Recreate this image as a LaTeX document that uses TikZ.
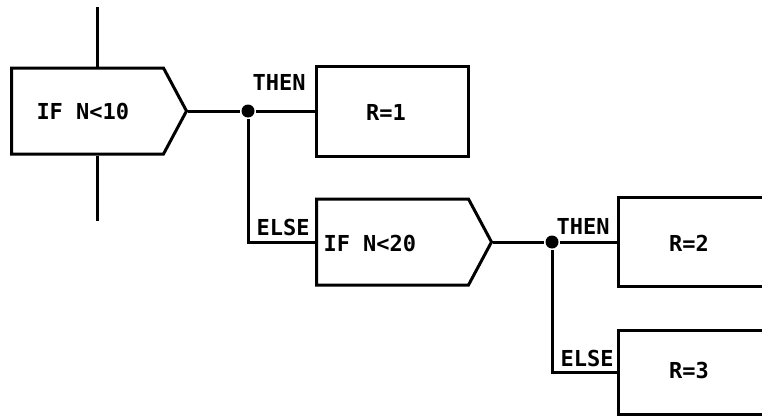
\documentclass[tikz,border=0pt]{standalone}
\usepackage{fontspec}
\setmonofont{DejaVu Sans Mono}
\usetikzlibrary{shapes.symbols}
\begin{document}
\begin{tikzpicture}[x=1pt,y=-1pt,
  every path/.style={line width=3pt},
  ifbox/.style={draw, line width=3pt, signal, signal to=east, signal pointer angle=123.7,
    minimum width=175pt, minimum height=86pt, inner sep=0pt, anchor=west},
  rbox/.style={draw, line width=3pt, rectangle, inner sep=0pt},
  txt/.style={font=\ttfamily\bfseries\fontsize{22}{22}\selectfont, inner sep=0pt},
  dot/.style={circle, fill, inner sep=0pt, minimum size=13pt}]
\useasboundingbox (0,0) rectangle (762,415);
% shapes
\node[ifbox] (if1) at (10,111) {};
\node[ifbox] (if2) at (315,242) {};
\node[rbox, minimum width=152pt, minimum height=90pt] (r1) at (392,111) {};
\node[rbox, minimum width=200pt, minimum height=89pt] (r2) at (718,242) {};
\node[rbox, minimum width=200pt, minimum height=84pt] (r3) at (718,372) {};
% junctions
\node[dot] (j1) at (248,111) {};
\node[dot] (j2) at (552,242) {};
% free ends
\coordinate (top) at (97,7);
\coordinate (bot) at (97,221);
% texts
\node[txt, anchor=west] (t1) at (35,111) {IF N<10};
\node[txt, anchor=west] (t2) at (322,243) {IF N<20};
\node[txt] (tr1) at (386,112) {R=1};
\node[txt] (tr2) at (689,243) {R=2};
\node[txt] (tr3) at (689,370) {R=3};
\node[txt, anchor=east] (th1) at (307,82) {THEN};
\node[txt, anchor=east] (el1) at (311,227) {ELSE};
\node[txt, anchor=east] (th2) at (611,226) {THEN};
\node[txt, anchor=east] (el2) at (615,358) {ELSE};
% connectors
\draw (top) -- (top |- if1.north);
\draw (bot |- if1.south) -- (bot);
\draw (if1.east) -- (j1) -- (r1.west);
\draw (j1) |- (if2.west);
\draw (if2.east) -- (j2) -- (r2.west);
\draw (j2) |- (r3.west);
\end{tikzpicture}
\end{document}
